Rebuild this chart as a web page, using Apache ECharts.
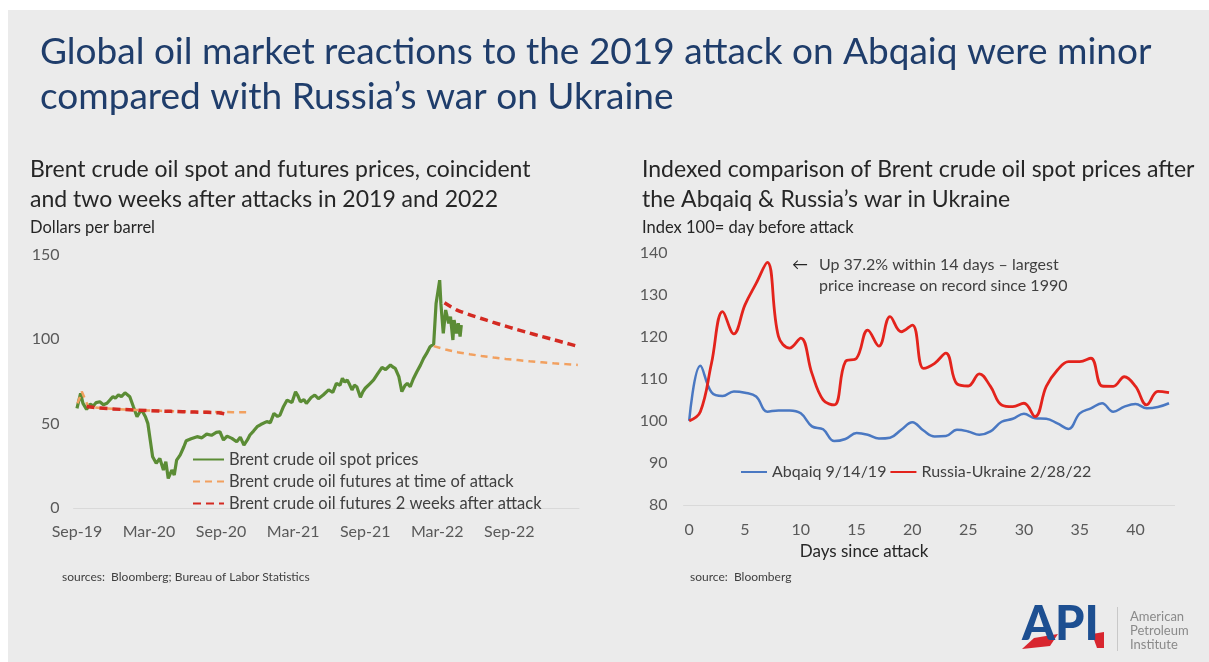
<!DOCTYPE html>
<html>
<head>
<meta charset="utf-8">
<title>Abqaiq vs Russia-Ukraine oil price reactions</title>
<script src="https://cdn.jsdelivr.net/npm/echarts@6/dist/echarts.min.js"></script>
<style>
  html, body { margin: 0; padding: 0; background: #fff; }
  #chart { width: 1209px; height: 662px; }
</style>
</head>
<body>
<div id="chart"></div>
<script>
// ---- left panel: x = months since 1 Sep 2019 ----
const monthTicks = [0, 6, 12, 18, 24, 30, 36];
const monthLabels = ['Sep-19', 'Mar-20', 'Sep-20', 'Mar-21', 'Sep-21', 'Mar-22', 'Sep-22'];

const spotMonths = [0.0, 0.3, 0.5, 0.8, 1.1, 1.36, 1.6, 1.9, 2.2, 2.5, 2.8, 3.0, 3.2, 3.45, 3.7, 4.0, 4.2, 4.4, 4.7, 5.0, 5.2, 5.4, 5.7, 5.9,
  6.1, 6.3, 6.6, 6.9, 7.2, 7.4, 7.6, 7.9, 8.1, 8.3, 8.6, 8.9, 9.1, 9.5, 10.0, 10.4, 10.8, 11.2, 11.6, 11.9, 12.2, 12.5, 12.9, 13.3, 13.6, 13.9, 14.2, 14.4,
  14.7, 15.0, 15.3, 15.8, 16.1, 16.4, 16.7, 16.9, 17.2, 17.5, 17.9, 18.2, 18.4, 18.6, 18.9, 19.1, 19.5, 19.8, 20.1, 20.5, 20.95, 21.3, 21.6, 21.9, 22.1, 22.3, 22.5, 22.7, 22.9, 23.1, 23.3,
  23.6, 23.8, 24.0, 24.4, 24.7, 25.0, 25.4, 25.7, 26.1, 26.3, 26.5, 26.8, 27.05, 27.3, 27.5, 27.75, 28.0, 28.3, 28.6, 28.86, 29.1, 29.4, 29.7, 29.9,
  30.2, 30.3, 30.5, 30.7, 30.95, 31.1, 31.3, 31.4, 31.6, 31.75, 31.9, 32.0];
const spotPrices = [59.1, 68, 62, 58.5, 61.5, 60.5, 62.5, 63, 61.2, 62.1, 64.5, 66, 65.2, 67, 66.1, 68.3, 67.2, 66, 60, 54.1, 56.5, 58, 54.1, 50.2,
  40.3, 30.4, 26.5, 29.4, 22.5, 27.5, 17.5, 22.5, 19.5, 28.4, 31.5, 36.3, 39.9, 41.1, 42.3, 41.6, 43.8, 43.1, 44.8, 45.2, 40.3, 42.6, 41.3, 39.3, 42.0, 37.3, 40.5, 43.3,
  45.6, 48.2, 49.5, 51.2, 50.6, 56.1, 54.3, 55.1, 60.2, 64, 62.5, 68.9, 66.5, 63, 64.2, 62, 65.5, 67, 64.8, 67, 70, 68.5, 73.9, 72.8, 76.9, 74.6, 75.9, 73.2, 70, 72.8, 71.9,
  65.6, 68.9, 71, 73.8, 75.9, 79.2, 83.4, 82.1, 84.8, 83.6, 82.8, 77.9, 69, 72.5, 73.9, 71.9, 76.5, 80.8, 84.7, 88.7, 91.5, 95.6, 97.2, 121.3,
  135.1, 121.3, 103.5, 117.4, 109.5, 113.4, 99.6, 111.4, 103.5, 109.5, 101.6, 108.5];

// futures curves, 2019 attack
const futAtAttack19Months = [0.05, 0.4, 0.95, 1.95, 2.95, 3.95, 4.95, 5.95, 6.95, 7.95, 8.95, 9.95, 10.95, 11.95, 12.95, 14.45];
const futAtAttack19Prices = [62, 69, 60, 59.3, 58.8, 58.4, 58.1, 57.8, 57.6, 57.4, 57.2, 57.1, 57.0, 56.9, 56.8, 56.7];
const fut2wk19Months = [0.8, 1.8, 2.8, 3.8, 4.8, 5.8, 6.8, 7.8, 8.8, 9.8, 10.8, 11.8, 12.3];
const fut2wk19Prices = [60.2, 59.3, 58.8, 58.4, 58.1, 57.8, 57.5, 57.3, 57.1, 56.9, 56.7, 56.5, 55.8];

// futures curves, 2022 attack
const futAtAttack22Months = [29.7, 30.7, 31.7, 32.7, 33.7, 34.7, 35.7, 36.7, 37.7, 38.7, 39.7, 40.7, 41.7];
const futAtAttack22Prices = [96.0, 94.0, 92.4, 91.2, 90.1, 89.2, 88.4, 87.7, 87.0, 86.4, 85.8, 85.3, 84.8];
const fut2wk22Months = [30.6, 31.6, 32.6, 33.6, 34.6, 35.6, 36.6, 37.6, 38.6, 39.6, 40.6, 41.6];
const fut2wk22Prices = [121.7, 117.5, 114.8, 112.5, 110.2, 108.0, 105.9, 103.9, 101.9, 100.0, 98.0, 96.0];

// ---- right panel: index, 100 = day before attack ----
const days = ['0', '1', '2', '3', '4', '5', '6', '7', '8', '9', '10', '11', '12', '13', '14', '15', '16', '17', '18', '19', '20', '21',
  '22', '23', '24', '25', '26', '27', '28', '29', '30', '31', '32', '33', '34', '35', '36', '37', '38', '39', '40', '41', '42', '43'];
const abqaiq = [100, 113.1, 106.8, 105.9, 107.0, 106.7, 105.8, 102.2, 102.5, 102.5, 101.8, 98.7, 98.0, 95.2, 95.7, 97.1,
  96.7, 95.8, 96.0, 97.9, 99.7, 97.7, 96.3, 96.4, 97.9, 97.5, 96.7, 97.5, 99.8, 100.5, 101.7, 100.6, 100.5, 99.4,
  98.1, 101.8, 103.0, 104.2, 102.2, 103.4, 104.0, 103.0, 103.3, 104.2];
const russiaUkraine = [100, 102.2, 113.7, 126.0, 120.7, 127.6, 132.7, 137.7, 120.1, 117.3, 119.7, 111.3, 105.0, 103.8,
  114.1, 114.9, 121.6, 117.8, 124.8, 121.2, 122.8, 112.5, 113.7, 116.1, 108.8, 108.3, 111.2, 108.2, 103.8, 103.4,
  104.2, 101.0, 108.2, 112.1, 114.1, 114.1, 114.9, 108.3, 108.2, 110.5, 108.2, 103.8, 107.0, 106.7];

const pair = (xs, ys) => xs.map((x, i) => [x, ys[i]]);

const FONT = 'Lato';
const GREEN = '#5b8c35';
const ORANGE = '#f2a05f';
const RED_DASH = '#d42a22';
const BLUE = '#4a78c2';
const RED = '#e3231c';
const AXIS_TXT = '#595959';

const chart = echarts.init(document.getElementById('chart'));

function txt(x, y, text, size, color, extra) {
  return {
    type: 'text', x: x, y: y, silent: true,
    style: Object.assign({ text: text, fontSize: size, fill: color, fontFamily: FONT, verticalAlign: 'middle' }, extra || {})
  };
}

chart.setOption({
  backgroundColor: '#ebebeb',
  textStyle: { fontFamily: FONT },
  animation: false,
  grid: [
    { left: 73.6, right: 630, top: 255, bottom: 154 },
    { left: 683.6, right: 34.4, top: 252.7, bottom: 157 }
  ],
  legend: [
    {
      orient: 'vertical', left: 187, top: 446, itemWidth: 31, itemHeight: 14, itemGap: 5,
      itemStyle: { opacity: 0 },
      textStyle: { fontSize: 16.5, color: '#404040', fontFamily: FONT },
      data: ['Brent crude oil spot prices', 'Brent crude oil futures at time of attack', 'Brent crude oil futures 2 weeks after attack']
    },
    {
      orient: 'horizontal', left: 735, top: 459, itemWidth: 26, itemHeight: 14, itemGap: 3,
      itemStyle: { opacity: 0 },
      textStyle: { fontSize: 16, color: '#404040', fontFamily: FONT },
      data: ['Abqaiq 9/14/19', 'Russia-Ukraine 2/28/22']
    }
  ],
  xAxis: [
    {
      type: 'value', gridIndex: 0, min: -0.28, max: 41.8,
      axisLine: { lineStyle: { color: '#d9d9d9' } },
      axisTick: { show: false },
      splitLine: { show: false },
      axisLabel: {
        customValues: monthTicks, color: AXIS_TXT, fontSize: 16, margin: 16,
        formatter: v => monthLabels[monthTicks.indexOf(v)] || ''
      }
    },
    {
      type: 'category', gridIndex: 1, data: days, boundaryGap: true,
      axisLine: { lineStyle: { color: '#d9d9d9' } },
      axisTick: { show: false },
      axisLabel: { interval: 4, color: AXIS_TXT, fontSize: 16, margin: 17 }
    }
  ],
  yAxis: [
    {
      type: 'value', gridIndex: 0, min: 0, max: 150, interval: 50,
      axisLine: { show: false }, axisTick: { show: false }, splitLine: { show: false },
      axisLabel: { color: AXIS_TXT, fontSize: 16, margin: 14 }
    },
    {
      type: 'value', gridIndex: 1, min: 80, max: 140, interval: 10,
      axisLine: { show: false }, axisTick: { show: false }, splitLine: { show: false },
      axisLabel: { color: AXIS_TXT, fontSize: 16, margin: 16 }
    }
  ],
  series: [
    {
      name: 'Brent crude oil futures at time of attack', type: 'line', xAxisIndex: 0, yAxisIndex: 0,
      data: pair(futAtAttack19Months, futAtAttack19Prices), symbol: 'none',
      lineStyle: { color: ORANGE, width: 2.5, type: [7, 5] }, itemStyle: { color: ORANGE }, z: 3
    },
    {
      name: 'Brent crude oil futures 2 weeks after attack', type: 'line', xAxisIndex: 0, yAxisIndex: 0,
      data: pair(fut2wk19Months, fut2wk19Prices), symbol: 'none',
      lineStyle: { color: RED_DASH, width: 3.5, type: [8, 5] }, itemStyle: { color: RED_DASH }, z: 4
    },
    {
      name: 'Brent crude oil spot prices', type: 'line', xAxisIndex: 0, yAxisIndex: 0,
      data: pair(spotMonths, spotPrices), symbol: 'none',
      lineStyle: { color: GREEN, width: 3.2 }, itemStyle: { color: GREEN }, z: 2
    },
    {
      name: 'Brent crude oil futures at time of attack', type: 'line', xAxisIndex: 0, yAxisIndex: 0,
      data: pair(futAtAttack22Months, futAtAttack22Prices), symbol: 'none', smooth: 0.3,
      lineStyle: { color: ORANGE, width: 2.5, type: [7, 5] }, itemStyle: { color: ORANGE }, z: 3
    },
    {
      name: 'Brent crude oil futures 2 weeks after attack', type: 'line', xAxisIndex: 0, yAxisIndex: 0,
      data: pair(fut2wk22Months, fut2wk22Prices), symbol: 'none', smooth: 0.3,
      lineStyle: { color: RED_DASH, width: 3.5, type: [8, 5] }, itemStyle: { color: RED_DASH }, z: 4
    },
    {
      name: 'Abqaiq 9/14/19', type: 'line', xAxisIndex: 1, yAxisIndex: 1,
      data: abqaiq, symbol: 'none', smooth: 0.4,
      lineStyle: { color: BLUE, width: 2.5 }, itemStyle: { color: BLUE }
    },
    {
      name: 'Russia-Ukraine 2/28/22', type: 'line', xAxisIndex: 1, yAxisIndex: 1,
      data: russiaUkraine, symbol: 'none', smooth: 0.4,
      lineStyle: { color: RED, width: 2.8 }, itemStyle: { color: RED }
    }
  ],
  graphic: [
    // white page margin
    { type: 'rect', shape: { x: 0, y: 0, width: 1209, height: 10 }, style: { fill: '#ffffff' }, silent: true },
    { type: 'rect', shape: { x: 0, y: 0, width: 8, height: 662 }, style: { fill: '#ffffff' }, silent: true },
    // headline
    txt(40, 52, 'Global oil market reactions to the 2019 attack on Abqaiq were minor', 37, '#1f3d6b'),
    txt(40, 97, 'compared with Russia\u2019s war on Ukraine', 37, '#1f3d6b'),
    // left panel heading
    txt(30, 170, 'Brent crude oil spot and futures prices, coincident', 23, '#262626'),
    txt(30, 200, 'and two weeks after attacks in 2019 and 2022', 23, '#262626'),
    txt(30, 228, 'Dollars per barrel', 16.5, '#262626'),
    txt(62, 577, 'sources:  Bloomberg; Bureau of Labor Statistics', 12, '#404040'),
    // right panel heading
    txt(642, 170, 'Indexed comparison of Brent crude oil spot prices after', 23, '#262626'),
    txt(642, 200, 'the Abqaiq & Russia\u2019s war in Ukraine', 23, '#262626'),
    txt(642, 228, 'Index 100= day before attack', 16.5, '#262626'),
    txt(864, 552, 'Days since attack', 17, '#262626', { align: 'center' }),
    txt(690, 577, 'source:  Bloomberg', 12, '#404040'),
    // annotation
    txt(792, 265, '\u2190', 16, '#262626'),
    txt(819, 265, 'Up 37.2% within 14 days \u2013 largest', 16, '#404040'),
    txt(819, 286, 'price increase on record since 1990', 16, '#404040'),
    // API logo
    { type: 'polygon', shape: { points: [[1022, 649], [1034, 638], [1058, 634], [1050, 646]] }, style: { fill: '#d8262f' }, silent: true },
    { type: 'polygon', shape: { points: [[1092, 634], [1104, 632], [1104, 648], [1097, 648]] }, style: { fill: '#d8262f' }, silent: true },
    txt(1022, 625, 'API', 47, '#1d4f91', { fontWeight: 900 }),
    { type: 'rect', shape: { x: 1117, y: 607, width: 1, height: 44 }, style: { fill: '#c8c8c8' }, silent: true },
    txt(1130, 617, 'American', 13, '#8a8a8a'),
    txt(1130, 631, 'Petroleum', 13, '#8a8a8a'),
    txt(1130, 645, 'Institute', 13, '#8a8a8a')
  ]
});
</script>
</body>
</html>
